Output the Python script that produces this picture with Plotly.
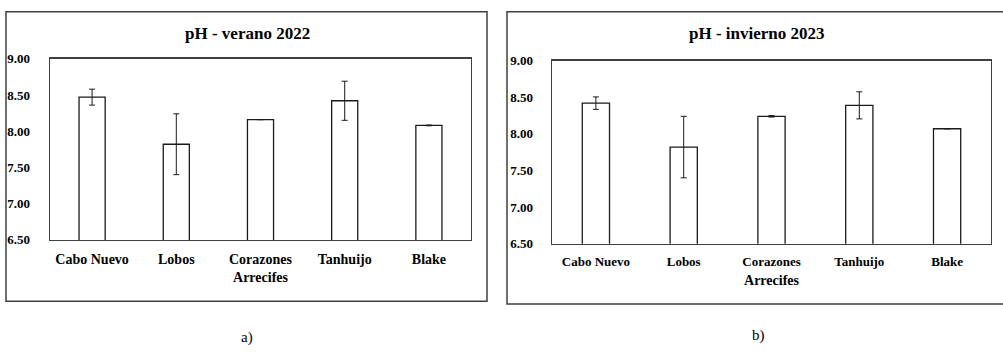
import plotly.graph_objects as go

categories = ["Cabo Nuevo", "Lobos", "Corazones", "Tanhuijo", "Blake"]
ph_verano_2022 = [8.47, 7.82, 8.16, 8.42, 8.08]
err_verano_2022 = [0.11, 0.42, 0.0, 0.27, 0.005]
ph_invierno_2023 = [8.42, 7.82, 8.24, 8.39, 8.07]
err_invierno_2023 = [0.085, 0.42, 0.01, 0.185, 0.0]
y_ticks = [6.5, 7.0, 7.5, 8.0, 8.5, 9.0]
y_tick_labels = ["6.50", "7.00", "7.50", "8.00", "8.50", "9.00"]

FONT = "Liberation Serif"
W, H = 1003, 360

def px(x):
    return x / W

def py(y):
    return 1 - y / H

fig = go.Figure()

fig.add_trace(go.Bar(
    x=categories, y=ph_verano_2022, xaxis="x", yaxis="y",
    width=0.31, marker=dict(color="white", line=dict(color="#1a1a1a", width=1.3)),
    error_y=dict(type="data", array=err_verano_2022, visible=True, color="#1a1a1a", thickness=1, width=3),
    showlegend=False, hoverinfo="skip",
))
fig.add_trace(go.Bar(
    x=categories, y=ph_invierno_2023, xaxis="x2", yaxis="y2",
    width=0.31, marker=dict(color="white", line=dict(color="#1a1a1a", width=1.3)),
    error_y=dict(type="data", array=err_invierno_2023, visible=True, color="#1a1a1a", thickness=1, width=3),
    showlegend=False, hoverinfo="skip",
))

def yax(domain, anchor, tl):
    return dict(
        domain=domain, anchor=anchor, range=[6.5, 9.0], tickmode="array",
        tickvals=y_ticks, ticktext=y_tick_labels,
        showgrid=False, zeroline=False,
        showline=True, mirror=True, linecolor="#404040", linewidth=1.3,
        ticks="outside", ticklen=tl, tickcolor="rgba(0,0,0,0)",
        tickfont=dict(family=FONT, size=13, color="black", weight="bold"),
    )

def xax(domain, anchor, size, tl, standoff):
    return dict(
        domain=domain, anchor=anchor, showgrid=False, zeroline=False,
        showline=True, mirror=True, linecolor="#404040", linewidth=1.3,
        ticks="outside", ticklen=tl, tickcolor="rgba(0,0,0,0)",
        tickfont=dict(family=FONT, size=size, color="black", weight="bold"),
        title=dict(text="Arrecifes", font=dict(family=FONT, size=14, color="black", weight="bold"), standoff=standoff),
    )

fig.update_layout(
    width=W, height=H,
    margin=dict(l=0, r=0, t=0, b=0),
    paper_bgcolor="white", plot_bgcolor="white",
    bargap=0.69,
    hovermode=False,
    xaxis=xax([px(50), px(471)], "y", 14, 6, 6),
    yaxis=yax([py(243), py(54)], "x", 16),
    xaxis2=xax([px(552), px(991)], "y2", 13, 5, 7),
    yaxis2=yax([py(247), py(56)], "x2", 15),
    shapes=[
        dict(type="rect", xref="paper", yref="paper", x0=px(6), x1=px(487), y0=py(307), y1=py(5),
             line=dict(color="#404040", width=1.5), fillcolor="rgba(0,0,0,0)", layer="below"),
        dict(type="rect", xref="paper", yref="paper", x0=px(507), x1=px(1010), y0=py(310), y1=py(5),
             line=dict(color="#404040", width=1.5), fillcolor="rgba(0,0,0,0)", layer="below"),
    ],
    annotations=[
        dict(text="pH - verano 2022", xref="paper", yref="paper", x=px(247), y=py(28),
             showarrow=False, font=dict(family=FONT, size=17, color="black", weight="bold"), xanchor="center", yanchor="middle"),
        dict(text="pH - invierno 2023", xref="paper", yref="paper", x=px(757), y=py(28),
             showarrow=False, font=dict(family=FONT, size=17, color="black", weight="bold"), xanchor="center", yanchor="middle"),
        dict(text="a)", xref="paper", yref="paper", x=px(247), y=py(345),
             showarrow=False, font=dict(family=FONT, size=15, color="black"), xanchor="center", yanchor="middle"),
        dict(text="b)", xref="paper", yref="paper", x=px(758), y=py(343),
             showarrow=False, font=dict(family=FONT, size=15, color="black"), xanchor="center", yanchor="middle"),
    ],
)

fig.write_html(
    "out.html",
    config={"displayModeBar": False, "staticPlot": True},
    post_script="document.body.style.margin='0';document.body.style.overflow='hidden';document.documentElement.style.overflow='hidden';",
)
